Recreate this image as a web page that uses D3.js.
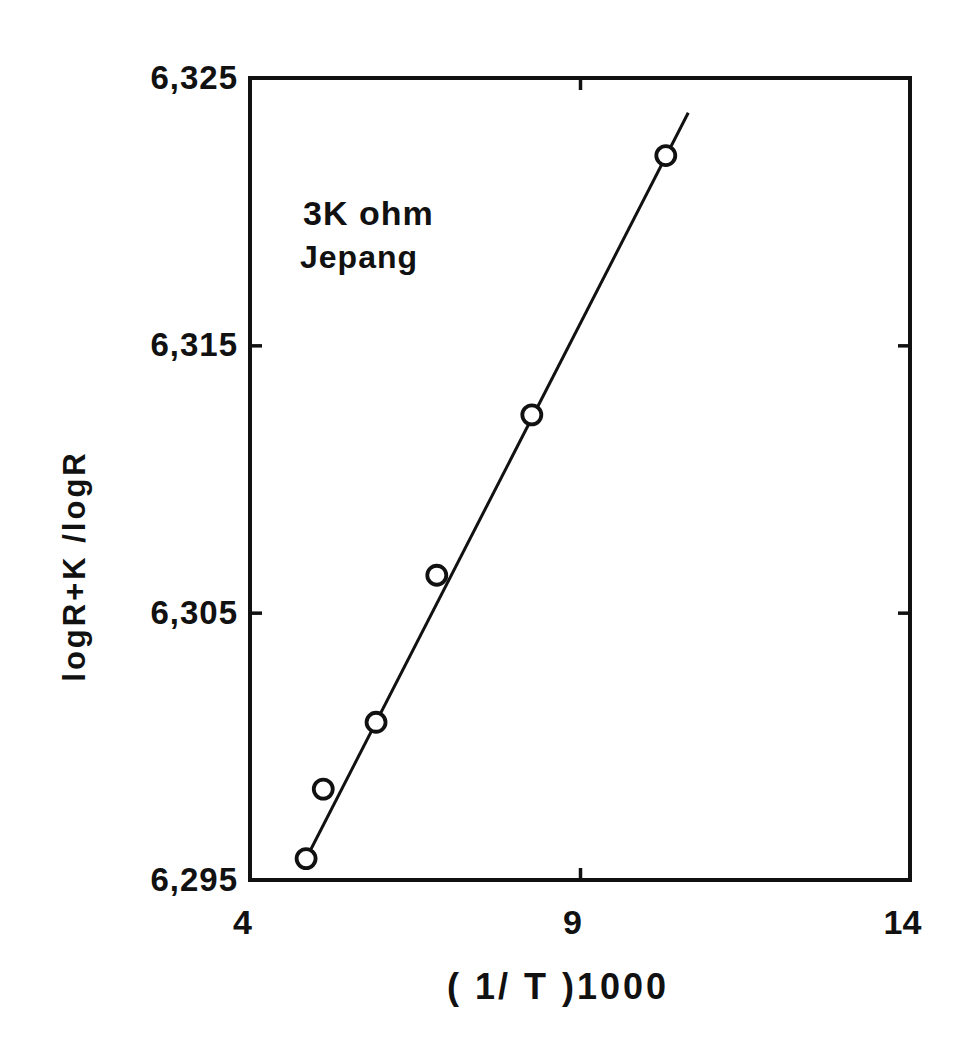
<!DOCTYPE html>
<html>
<head>
<meta charset="utf-8">
<script src="https://cdn.jsdelivr.net/npm/d3@7"></script>
<style>
  body { margin: 0; background: #fff; }
  text { font-family: "Liberation Sans", Arial, sans-serif; font-weight: bold; fill: #111; }
</style>
</head>
<body>
<div id="chart"></div>
<script>
// measured points, (1/T)1000 vs logR+K/logR
const xValues = [4.85, 5.11, 5.91, 6.83, 8.27, 10.30];
const yValues = [6.2958, 6.2984, 6.3009, 6.3064, 6.3124, 6.3221];

// fitted straight line, two ends
const fitX = [4.83, 10.64];
const fitY = [6.2957, 6.3237];

const xTicks = [4, 9, 14];
const yTicks = [6.295, 6.305, 6.315, 6.325];
const xInnerTicks = [9];
const yInnerTicks = [6.305, 6.315];

const width = 972;
const height = 1044;
const margin = { left: 250, right: 62, top: 78, bottom: 164 };

const svg = d3.select("#chart")
  .append("svg")
  .attr("width", width)
  .attr("height", height);

const x = d3.scaleLinear().domain([4, 14]).range([margin.left, width - margin.right]);
const y = d3.scaleLinear().domain([6.295, 6.325]).range([height - margin.bottom, margin.top]);

const fmtY = d => d3.format(".3f")(d).replace(".", ",");

// tick labels
const gxLab = svg.append("g")
  .attr("transform", `translate(0,${y.range()[0]})`)
  .call(d3.axisBottom(x).tickValues(xTicks).tickSize(0).tickPadding(30).tickFormat(d3.format("d")));
gxLab.select(".domain").remove();
gxLab.selectAll("text").attr("dx", -8).style("font-size", "34px").style("font-family", null);

const gyLab = svg.append("g")
  .attr("transform", `translate(${x.range()[0]},0)`)
  .call(d3.axisLeft(y).tickValues(yTicks).tickSize(0).tickPadding(12).tickFormat(fmtY));
gyLab.select(".domain").remove();
gyLab.selectAll("text").style("font-size", "33px").style("font-family", null).attr("letter-spacing", 1);

// inward ticks on all four sides
const tickLen = 12;
const inward = [
  d3.axisBottom(x).tickValues(xInnerTicks).tickSizeInner(-tickLen).tickSizeOuter(0).tickFormat(""),
  d3.axisTop(x).tickValues(xInnerTicks).tickSizeInner(-tickLen).tickSizeOuter(0).tickFormat(""),
  d3.axisLeft(y).tickValues(yInnerTicks).tickSizeInner(-tickLen).tickSizeOuter(0).tickFormat(""),
  d3.axisRight(y).tickValues(yInnerTicks).tickSizeInner(-tickLen).tickSizeOuter(0).tickFormat("")
];
const pos = [
  `translate(0,${y.range()[0]})`,
  `translate(0,${y.range()[1]})`,
  `translate(${x.range()[0]},0)`,
  `translate(${x.range()[1]},0)`
];
inward.forEach((ax, i) => {
  const g = svg.append("g").attr("transform", pos[i]).call(ax);
  g.select(".domain").remove();
  g.selectAll("line").attr("stroke", "#111").attr("stroke-width", 3.5);
});

// frame
svg.append("rect")
  .attr("x", x.range()[0])
  .attr("y", y.range()[1])
  .attr("width", x.range()[1] - x.range()[0])
  .attr("height", y.range()[0] - y.range()[1])
  .attr("fill", "none")
  .attr("stroke", "#111")
  .attr("stroke-width", 4);

// fitted line
svg.append("path")
  .datum(fitX.map((d, i) => [d, fitY[i]]))
  .attr("fill", "none")
  .attr("stroke", "#111")
  .attr("stroke-width", 3)
  .attr("d", d3.line().x(d => x(d[0])).y(d => y(d[1])));

// open circles
svg.selectAll("circle.pt")
  .data(xValues.map((d, i) => [d, yValues[i]]))
  .enter().append("circle")
  .attr("class", "pt")
  .attr("cx", d => x(d[0]))
  .attr("cy", d => y(d[1]))
  .attr("r", 9.5)
  .attr("fill", "#fff")
  .attr("stroke", "#111")
  .attr("stroke-width", 3.8);

// annotation
svg.append("text").attr("x", 303).attr("y", 225).style("font-size", "34px").attr("letter-spacing", 1).text("3K ohm");
svg.append("text").attr("x", 300).attr("y", 268).style("font-size", "32px").attr("letter-spacing", 1).text("Jepang");

// axis titles
svg.append("text")
  .attr("x", 558).attr("y", 999)
  .attr("text-anchor", "middle")
  .style("font-size", "36px")
  .attr("letter-spacing", 3)
  .text("( 1/ T )1000");

svg.append("text")
  .attr("transform", "translate(85,566) rotate(-90)")
  .attr("text-anchor", "middle")
  .style("font-size", "31px")
  .attr("letter-spacing", 3)
  .text("logR+K /logR");
</script>
</body>
</html>
